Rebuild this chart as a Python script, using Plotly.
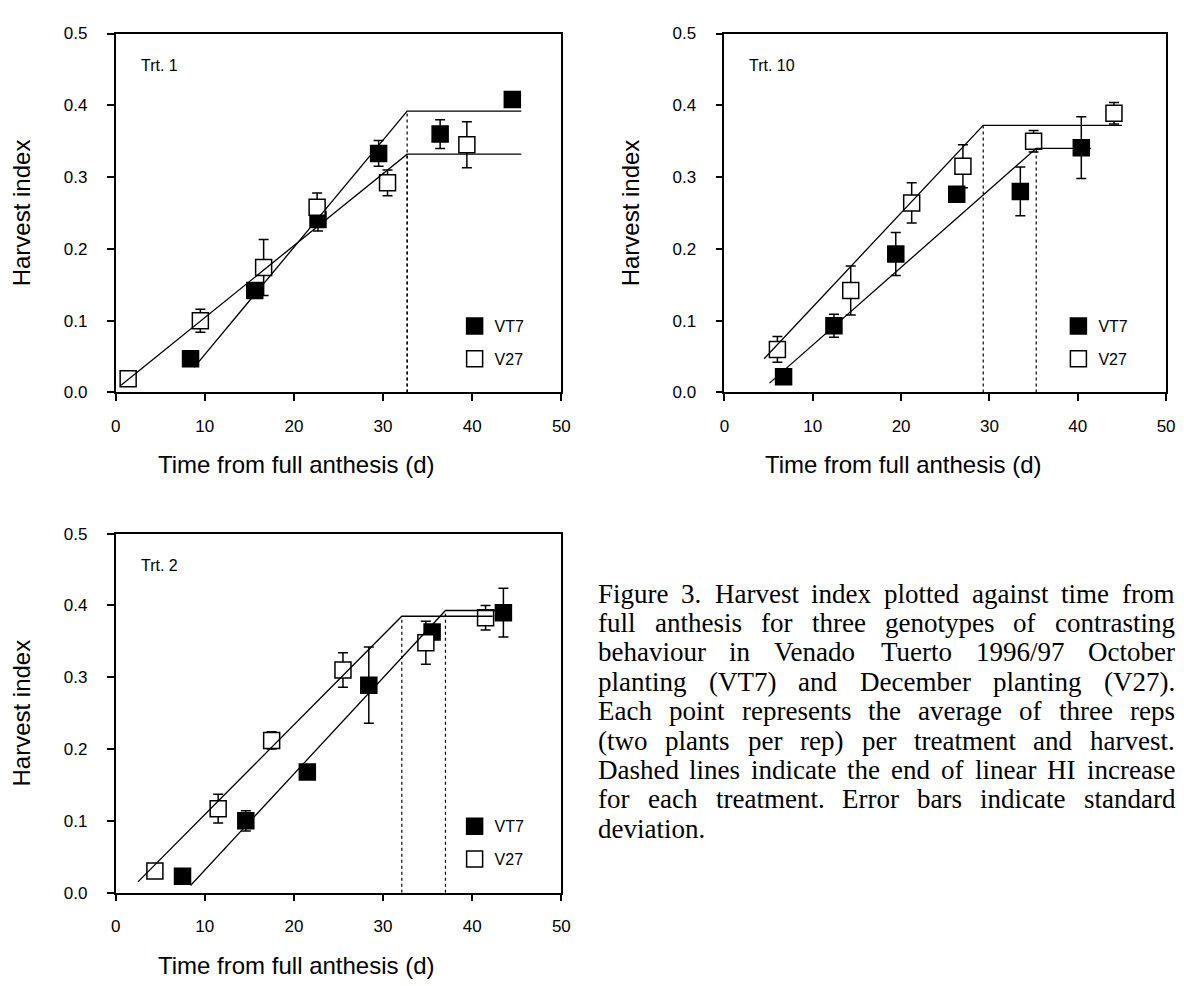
import plotly.graph_objects as go

# ---------------- data ----------------
panel_titles = ["Trt. 1", "Trt. 10", "Trt. 2"]
series_names = ["VT7", "V27"]

x_ticks = [0, 10, 20, 30, 40, 50]
x_tick_labels = ["0", "10", "20", "30", "40", "50"]
y_ticks = [0.0, 0.1, 0.2, 0.3, 0.4, 0.5]
y_tick_labels = ["0.0", "0.1", "0.2", "0.3", "0.4", "0.5"]

# Trt. 1
t1_vt7_x = [8.4, 15.6, 22.7, 29.5, 36.4, 44.5]
t1_vt7_y = [0.047, 0.142, 0.241, 0.333, 0.360, 0.408]
t1_vt7_sd = [0.010, 0.010, 0.016, 0.018, 0.020, 0.0]
t1_v27_x = [1.4, 9.5, 16.6, 22.6, 30.5, 39.4]
t1_v27_y = [0.019, 0.100, 0.174, 0.258, 0.292, 0.345]
t1_v27_sd = [0.0, 0.016, 0.039, 0.020, 0.018, 0.032]
t1_vt7_fit_x = [8.8, 32.7, 45.5]
t1_vt7_fit_y = [0.035, 0.392, 0.392]
t1_v27_fit_x = [0.6, 32.7, 45.5]
t1_v27_fit_y = [0.010, 0.332, 0.332]

# Trt. 10
t10_vt7_x = [6.7, 12.4, 19.4, 26.3, 33.5, 40.4]
t10_vt7_y = [0.022, 0.093, 0.193, 0.276, 0.280, 0.341]
t10_vt7_sd = [0.010, 0.016, 0.030, 0.004, 0.034, 0.043]
t10_v27_x = [6.0, 14.3, 21.2, 27.0, 35.0, 44.1]
t10_v27_y = [0.060, 0.142, 0.264, 0.315, 0.350, 0.389]
t10_v27_sd = [0.018, 0.034, 0.028, 0.030, 0.015, 0.015]
t10_vt7_fit_x = [5.1, 35.3, 41.5]
t10_vt7_fit_y = [0.013, 0.340, 0.340]
t10_v27_fit_x = [4.5, 29.3, 45.0]
t10_v27_fit_y = [0.047, 0.372, 0.372]

# Trt. 2
t2_vt7_x = [7.5, 14.6, 21.5, 28.4, 35.5, 43.5]
t2_vt7_y = [0.023, 0.100, 0.168, 0.289, 0.363, 0.390]
t2_vt7_sd = [0.0, 0.014, 0.0, 0.053, 0.010, 0.034]
t2_v27_x = [4.4, 11.5, 17.5, 25.5, 34.8, 41.5]
t2_v27_y = [0.030, 0.117, 0.212, 0.310, 0.348, 0.383]
t2_v27_sd = [0.0, 0.020, 0.012, 0.024, 0.030, 0.017]
t2_vt7_fit_x = [8.4, 37.0, 43.8]
t2_vt7_fit_y = [0.010, 0.393, 0.393]
t2_v27_fit_x = [2.5, 32.1, 42.3]
t2_v27_fit_y = [0.015, 0.385, 0.385]

x_title = "Time from full anthesis (d)"
y_title = "Harvest index"

caption_lines = [
    "Figure 3. Harvest index plotted against time from",
    "full anthesis for three genotypes of contrasting",
    "behaviour in Venado Tuerto 1996/97 October",
    "planting (VT7) and December planting (V27).",
    "Each point represents the average of three reps",
    "(two plants per rep) per treatment and harvest.",
    "Dashed lines indicate the end of linear HI increase",
    "for each treatment. Error bars indicate standard",
    "deviation.",
]

# ---------------- layout helpers ----------------
W, H = 1184, 986
SANS = "Arial, 'Liberation Sans', sans-serif"
SERIF = "'Times New Roman', 'Liberation Serif', serif"

# pixel boxes of the three plot areas: (left, right), (top, bottom)
boxes = [((112, 563), (25, 391)), ((728, 1175), (25, 391)), ((112, 563), (535, 901))]
legend_pos = [(455, 306), (1066, 306), (455, 816)]

panels = [
    dict(vt7=(t1_vt7_x, t1_vt7_y, t1_vt7_sd), v27=(t1_v27_x, t1_v27_y, t1_v27_sd),
         fits=[(t1_vt7_fit_x, t1_vt7_fit_y), (t1_v27_fit_x, t1_v27_fit_y)]),
    dict(vt7=(t10_vt7_x, t10_vt7_y, t10_vt7_sd), v27=(t10_v27_x, t10_v27_y, t10_v27_sd),
         fits=[(t10_vt7_fit_x, t10_vt7_fit_y), (t10_v27_fit_x, t10_v27_fit_y)]),
    dict(vt7=(t2_vt7_x, t2_vt7_y, t2_vt7_sd), v27=(t2_v27_x, t2_v27_y, t2_v27_sd),
         fits=[(t2_vt7_fit_x, t2_vt7_fit_y), (t2_v27_fit_x, t2_v27_fit_y)]),
]

fig = go.Figure()
layout = dict(
    width=W, height=H, margin=dict(l=0, r=0, t=0, b=0),
    paper_bgcolor="white", plot_bgcolor="white",
    font=dict(family=SANS, color="black", size=15),
    annotations=[],
)

for i, p in enumerate(panels):
    n = i + 1
    xa = "x" if n == 1 else f"x{n}"
    ya = "y" if n == 1 else f"y{n}"
    leg = "legend" if n == 1 else f"legend{n}"
    (l, r), (t, b) = boxes[i]

    # data markers
    for key, name, fill in (("vt7", "VT7", "black"), ("v27", "V27", "white")):
        xs, ys, sd = p[key]
        fig.add_trace(go.Scatter(
            x=xs, y=ys, mode="markers", name=name, xaxis=xa, yaxis=ya,
            legend=leg, legendgroup=f"{n}{name}", showlegend=True,
            marker=dict(symbol="square", size=16, color=fill,
                        line=dict(color="black", width=1.5)),
            error_y=dict(type="data", array=sd, visible=True, color="black",
                         thickness=1.5, width=5),
        ))
    # fitted bilinear lines + dotted breakpoint lines
    for fx, fy in p["fits"]:
        fig.add_trace(go.Scatter(
            x=fx, y=fy, mode="lines", xaxis=xa, yaxis=ya, showlegend=False,
            line=dict(color="black", width=1.3), hoverinfo="skip"))
        fig.add_trace(go.Scatter(
            x=[fx[1], fx[1]], y=[0, fy[1]], mode="lines", xaxis=xa, yaxis=ya,
            showlegend=False, line=dict(color="black", width=1.2, dash="dot"),
            hoverinfo="skip"))

    axis_common = dict(showline=True, linewidth=1.6, linecolor="black", mirror=True,
                       ticks="outside", ticklen=7, tickwidth=1.5, tickcolor="black",
                       showgrid=False, zeroline=False,
                       tickfont=dict(family=SANS, size=17, color="black"))
    layout[f"xaxis{'' if n == 1 else n}"] = dict(
        axis_common, domain=[l / W, r / W], anchor=ya, range=[0, 50],
        tickvals=x_ticks, ticktext=x_tick_labels, ticklabelstandoff=10)
    layout[f"yaxis{'' if n == 1 else n}"] = dict(
        axis_common, domain=[1 - b / H, 1 - t / H], anchor=xa, range=[0, 0.5],
        tickvals=y_ticks, ticktext=y_tick_labels, ticklabelstandoff=16,
        title=dict(text=y_title, font=dict(family=SANS, size=24), standoff=26))
    lx, ly = legend_pos[i]
    layout[leg] = dict(x=lx / W, y=1 - ly / H, xanchor="left", yanchor="top",
                       bgcolor="rgba(0,0,0,0)", borderwidth=0, tracegroupgap=9,
                       itemwidth=30, font=dict(family=SANS, size=16, color="black"))
    # panel label
    layout["annotations"].append(dict(
        text=panel_titles[i], xref=f"{xa} domain", yref=f"{ya} domain",
        x=0.052, y=0.91, xanchor="left", yanchor="middle", showarrow=False,
        font=dict(family=SANS, size=16, color="black")))
    # x-axis title (sits a little left of the axis centre in the reference)
    layout["annotations"].append(dict(
        text=x_title, xref=f"{xa} domain", yref=f"{ya} domain",
        x=0.405, y=-0.202, xanchor="center", yanchor="middle", showarrow=False,
        font=dict(family=SANS, size=24, color="black")))

# ---------------- justified caption (Times metrics, units of 1/1000 em) ----------------
TIMES_W = {" ": 250, "(": 333, ")": 333, ".": 250, "/": 278, ",": 250}
TIMES_W.update({d: 500 for d in "0123456789"})
TIMES_W.update(dict(zip("ABCDEFGHIJKLMNOPQRSTUVWXYZ",
                        [722, 667, 667, 722, 611, 556, 722, 722, 333, 389, 722, 611, 889,
                         722, 722, 556, 722, 667, 556, 611, 722, 722, 944, 722, 722, 611])))
TIMES_W.update(dict(zip("abcdefghijklmnopqrstuvwxyz",
                        [444, 500, 444, 500, 444, 333, 500, 500, 278, 278, 500, 278, 778,
                         500, 500, 500, 500, 333, 389, 278, 500, 500, 722, 500, 500, 444])))

CAP_SIZE = 27
CAP_LEFT, CAP_RIGHT = 598, 1181
CAP_TOP, CAP_PITCH = 596, 30


def text_w(s):
    return sum(TIMES_W.get(c, 500) for c in s) * CAP_SIZE / 1000.0


for k, line in enumerate(caption_lines):
    ypx = CAP_TOP + CAP_PITCH * k
    words = line.split(" ")
    if k == len(caption_lines) - 1 or len(words) == 1:
        positions = [CAP_LEFT]
        words = [line]
    else:
        widths = [text_w(w) for w in words]
        gap = (CAP_RIGHT - CAP_LEFT - sum(widths)) / (len(words) - 1)
        positions, xpos = [], CAP_LEFT
        for w in widths:
            positions.append(xpos)
            xpos += w + gap
    for w, xp in zip(words, positions):
        layout["annotations"].append(dict(
            text=w, xref="paper", yref="paper", x=xp / W, y=1 - ypx / H,
            xanchor="left", yanchor="middle", showarrow=False, align="left",
            font=dict(family=SERIF, size=CAP_SIZE, color="black")))

fig.update_layout(**layout)
fig.write_html("out.html", config={"displayModeBar": False},
               post_script="document.body.style.margin='0';")
